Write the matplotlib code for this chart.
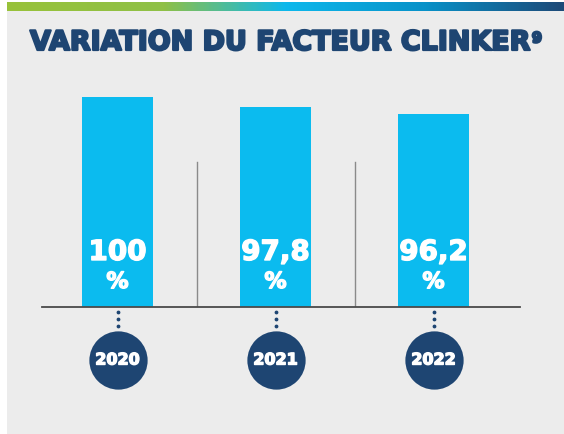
import numpy as np
import matplotlib
matplotlib.use("Agg")
import matplotlib.pyplot as plt
from matplotlib.colors import LinearSegmentedColormap
from matplotlib.patches import Rectangle
import matplotlib.transforms as mtransforms
import matplotlib.patheffects as pe

# data
years = ["2020", "2021", "2022"]
values = [100, 97.8, 96.2]
labels = ["100", "97,8", "96,2"]

navy = "#1e4572"
cyan = "#0bbbef"
grey_bg = "#ececec"
font = "DejaVu Sans"

W, H = 564, 434
fig = plt.figure(figsize=(W / 100, H / 100), dpi=100)
fig.patch.set_facecolor("white")

def fy(py):
    # pixel row from top -> figure fraction
    return 1 - py / H

# heavier look for the bold text
heavy_navy = [pe.withStroke(linewidth=1.6, foreground=navy)]
heavy_white = [pe.withStroke(linewidth=1.0, foreground="white")]

# grey panel
fig.patches.append(Rectangle((7 / W, 0), 1 - 7 / W, fy(10.5), transform=fig.transFigure,
                             facecolor=grey_bg, edgecolor="none", zorder=-5))

# gradient strip on top
gax = fig.add_axes([7 / W, fy(10.7), 1 - 7 / W, 8.7 / H])
cmap = LinearSegmentedColormap.from_list("strip", [(0, "#98c23a"), (0.28, "#8fc047"),
                                                   (0.5, "#0db8ec"), (0.75, "#0892c9"),
                                                   (1, "#1d4a78")])
gax.imshow(np.linspace(0, 1, 300).reshape(1, -1), aspect="auto", cmap=cmap)
gax.axis("off")

# title, fitted to the width of the reference
t = fig.text(30 / W, fy(43), "VARIATION DU FACTEUR CLINKER", fontsize=20,
             family=font, weight="bold", color=navy, ha="left", va="center",
             path_effects=heavy_navy)
fig.canvas.draw()
bb = t.get_window_extent()
t.set_fontsize(20 * (529 - 30) / bb.width)
fig.canvas.draw()
bb = t.get_window_extent()
fig.text((bb.x1 + 3) / W, fy(38), "9", fontsize=10.5, family=font, weight="bold",
         color=navy, ha="left", va="center", path_effects=heavy_navy)

# bar axes
ymin = 53.8
ax = fig.add_axes([42 / W, fy(307), (520 - 42) / W, 210 / H])
ax.set_facecolor("none")
x = np.arange(len(years))
ax.bar(x, values, width=0.45, color=cyan, zorder=2)
ax.set_xlim(-0.478, 2.547)
ax.set_ylim(ymin, 100)
for s in ["top", "right", "left"]:
    ax.spines[s].set_visible(False)
ax.spines["bottom"].set_color("#4a4a4a")
ax.spines["bottom"].set_linewidth(1.3)
ax.set_xticks([])
ax.set_yticks([])

# separators
for sx in [0.5, 1.5]:
    ax.axvline(sx, ymin=0, ymax=145 / 210, color="#8a8a8a", lw=1, zorder=1)

trans = mtransforms.blended_transform_factory(ax.transData, fig.transFigure)
for i in range(len(years)):
    ax.text(i, fy(252), labels[i], transform=trans, ha="center", va="center",
            fontsize=20, family=font, weight="bold", color="white",
            path_effects=heavy_white)
    ax.text(i, fy(282), "%", transform=trans, ha="center", va="center",
            fontsize=16, family=font, weight="bold", color="white",
            path_effects=heavy_white)
    # dotted connector
    ax.scatter([i, i, i], [fy(312), fy(319), fy(326)], s=3, color=navy,
               transform=trans, clip_on=False, zorder=3)
    # year circle
    ax.scatter([i], [fy(360)], s=1760, color=navy, transform=trans,
               clip_on=False, zorder=3, linewidths=0)
    ax.text(i, fy(360), years[i], transform=trans, ha="center", va="center",
            fontsize=11.5, family=font, weight="bold", color="white", zorder=4,
            path_effects=heavy_white)

fig.savefig("out.png", dpi=100)
